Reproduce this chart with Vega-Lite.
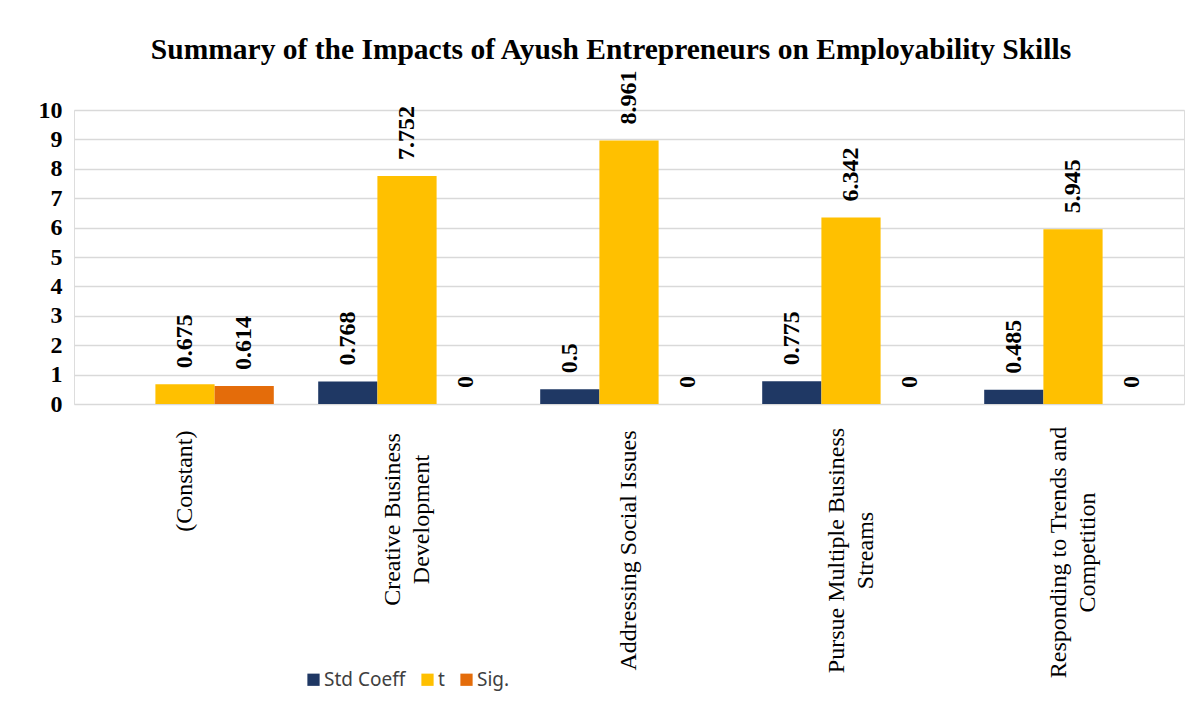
{
  "$schema": "https://vega.github.io/schema/vega-lite/v6.json",
  "autosize": {"type": "none"},
  "width": 1110,
  "height": 294,
  "padding": {"left": 74, "top": 110, "right": 18, "bottom": 308},
  "background": "white",
  "title": {
    "text": "Summary of the Impacts of Ayush Entrepreneurs on Employability Skills",
    "font": "Liberation Serif",
    "fontSize": 29.5,
    "fontWeight": "bold",
    "color": "black",
    "anchor": "middle",
    "frame": "group",
    "dx": -18,
    "offset": 5
  },
  "data": {
    "values": [
      {"category": "(Constant)", "series": "t", "value": 0.675},
      {"category": "(Constant)", "series": "Sig.", "value": 0.614},
      {"category": "Creative Business Development", "series": "Std Coeff", "value": 0.768},
      {"category": "Creative Business Development", "series": "t", "value": 7.752},
      {"category": "Creative Business Development", "series": "Sig.", "value": 0},
      {"category": "Addressing Social Issues", "series": "Std Coeff", "value": 0.5},
      {"category": "Addressing Social Issues", "series": "t", "value": 8.961},
      {"category": "Addressing Social Issues", "series": "Sig.", "value": 0},
      {"category": "Pursue Multiple Business Streams", "series": "Std Coeff", "value": 0.775},
      {"category": "Pursue Multiple Business Streams", "series": "t", "value": 6.342},
      {"category": "Pursue Multiple Business Streams", "series": "Sig.", "value": 0},
      {"category": "Responding to Trends and Competition", "series": "Std Coeff", "value": 0.485},
      {"category": "Responding to Trends and Competition", "series": "t", "value": 5.945},
      {"category": "Responding to Trends and Competition", "series": "Sig.", "value": 0}
    ]
  },
  "encoding": {
    "x": {
      "field": "category",
      "type": "nominal",
      "sort": null,
      "scale": {"paddingInner": 0.2, "paddingOuter": 0.1},
      "axis": {
        "title": null,
        "labelAngle": -90,
        "labelFont": "Liberation Serif",
        "labelFontSize": 24,
        "labelColor": "black",
        "labelLineHeight": 29,
        "labelLimit": 400,
        "labelAlign": {
          "condition": {"test": "datum.value == '(Constant)' || datum.value == 'Addressing Social Issues'", "value": "right"},
          "value": "center"
        },
        "labelPadding": {
          "condition": [
            {"test": "datum.value == 'Creative Business Development'", "value": 115},
            {"test": "datum.value == 'Pursue Multiple Business Streams'", "value": 146},
            {"test": "datum.value == 'Responding to Trends and Competition'", "value": 148}
          ],
          "value": 26
        },
        "labelOffset": {
          "condition": {"test": "datum.value == '(Constant)' || datum.value == 'Addressing Social Issues'", "value": 0},
          "value": -14.5
        },
        "ticks": false,
        "domain": false,
        "grid": false,
        "labelExpr": "datum.label == 'Creative Business Development' ? ['Creative Business', 'Development'] : datum.label == 'Pursue Multiple Business Streams' ? ['Pursue Multiple Business', 'Streams'] : datum.label == 'Responding to Trends and Competition' ? ['Responding to Trends and', 'Competition'] : datum.label"
      }
    },
    "xOffset": {
      "field": "series",
      "type": "nominal",
      "sort": ["Std Coeff", "t", "Sig."],
      "scale": {"domain": ["Std Coeff", "t", "Sig."], "paddingInner": 0, "paddingOuter": 0}
    },
    "y": {
      "field": "value",
      "type": "quantitative",
      "scale": {"domain": [0, 10], "nice": false},
      "axis": {
        "title": null,
        "values": [0, 1, 2, 3, 4, 5, 6, 7, 8, 9, 10],
        "labelFont": "Liberation Serif",
        "labelFontSize": 24,
        "labelFontWeight": "bold",
        "labelColor": "black",
        "labelPadding": 12,
        "ticks": false,
        "domain": false,
        "grid": true,
        "gridColor": "#d9d9d9",
        "gridWidth": 1.5
      }
    }
  },
  "layer": [
    {
      "mark": {"type": "bar"},
      "encoding": {
        "color": {
          "field": "series",
          "type": "nominal",
          "scale": {"domain": ["Std Coeff", "t", "Sig."], "range": ["#1F3864", "#FFC000", "#E46C0A"]},
          "legend": {
            "title": null,
            "orient": "none",
            "direction": "horizontal",
            "legendX": 230,
            "legendY": 560,
            "symbolType": "square",
            "symbolSize": 150,
            "symbolStrokeWidth": 0,
            "labelFont": "Noto Sans",
            "labelFontSize": 19,
            "labelColor": "#404040",
            "labelOffset": 1,
            "columnPadding": 12
          }
        }
      }
    },
    {
      "mark": {
        "type": "text",
        "angle": -90,
        "align": "left",
        "baseline": "middle",
        "dx": 16,
        "font": "Liberation Serif",
        "fontSize": 24,
        "fontWeight": "bold",
        "color": "black"
      },
      "encoding": {
        "text": {"field": "value", "type": "quantitative", "format": "~g"}
      }
    }
  ]
}
